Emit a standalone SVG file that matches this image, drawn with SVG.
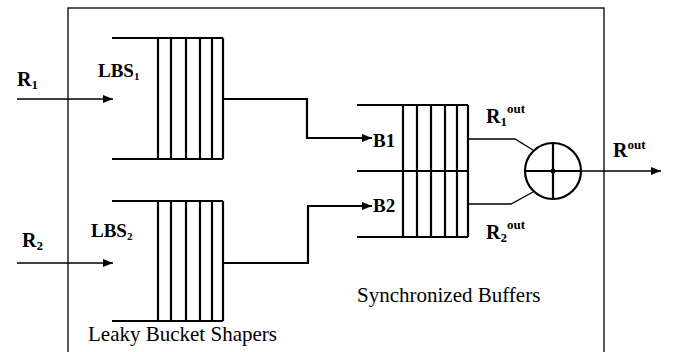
<svg xmlns="http://www.w3.org/2000/svg" width="682" height="352" viewBox="0 0 682 352">
<defs>
<marker id="ah" viewBox="0 0 10 8" refX="10" refY="4" markerWidth="10" markerHeight="8" markerUnits="userSpaceOnUse" orient="auto">
<path d="M0,0 L10,4 L0,8 Z" fill="#000"/>
</marker>
</defs>
<style>
.q{stroke:#000;stroke-width:2.2;fill:none}
.thin{stroke:#000;stroke-width:1.4;fill:none}
text{font-family:'Liberation Serif','Times New Roman','DejaVu Serif',serif;fill:#000}
.b{font-weight:bold}
.n{font-size:21px}
</style>
<rect id="frame" x="68" y="8" width="536" height="360" fill="none" stroke="#000" stroke-width="1.3"/>
<g id="lbs1">
<path class="q" d="M112,38 H223 M112,159 H223 M158,38 V159 M171,38 V159 M186,38 V159 M200,38 V159 M212,38 V159 M223,38 V159"/>
<text class="b" x="98" y="77" font-size="19">LBS<tspan font-size="11" dy="3">1</tspan></text>
</g>
<g id="lbs2">
<path class="q" d="M112,201 H223 M112,321 H223 M158,201 V321 M171,201 V321 M186,201 V321 M200,201 V321 M212,201 V321 M223,201 V321"/>
<text class="b" x="91" y="237" font-size="19">LBS<tspan font-size="11" dy="3">2</tspan></text>
</g>
<g id="sync">
<path class="q" d="M357,105 H468 M357,171 H468 M357,237 H468 M403,105 V237 M417,105 V237 M431,105 V237 M445,105 V237 M457,105 V237 M468,105 V237"/>
<text class="b" x="373" y="147" font-size="19">B1</text>
<text class="b" x="373" y="212" font-size="19">B2</text>
</g>
<g id="sum">
<circle cx="553" cy="171" r="28" fill="none" stroke="#000" stroke-width="2.2"/>
<path class="q" d="M525,171 H581 M553,143 V199"/>
<circle cx="553" cy="171" r="2.5" fill="#000"/>
</g>
<g id="labels">
<text class="b" x="17" y="86" font-size="20">R<tspan font-size="13" dy="3">1</tspan></text>
<text class="b" x="22" y="247" font-size="20">R<tspan font-size="13" dy="3">2</tspan></text>
<text class="b" x="486" y="123" font-size="20">R<tspan font-size="13" dy="3">1</tspan><tspan font-size="13" dy="-13">out</tspan></text>
<text class="b" x="486" y="239" font-size="20">R<tspan font-size="13" dy="3">2</tspan><tspan font-size="13" dy="-13">out</tspan></text>
<text class="b" x="613" y="157" font-size="20">R<tspan font-size="13" dy="-8">out</tspan></text>
<text class="n" x="88" y="341">Leaky Bucket Shapers</text>
<text class="n" x="357" y="302">Synchronized Buffers</text>
</g>
<g id="connectors">
<path class="thin" d="M17,99 H113" marker-end="url(#ah)"/>
<path class="thin" d="M17,263 H113" marker-end="url(#ah)"/>
<path class="q" d="M223,99 H307 V138 H372" marker-end="url(#ah)"/>
<path class="q" d="M223,263 H308 V206 H372" marker-end="url(#ah)"/>
<path class="thin" d="M468,139 H515 L533,150"/>
<path class="thin" d="M468,204 H511 L533,192"/>
<path class="thin" d="M581,171 H661" marker-end="url(#ah)"/>
</g>
</svg>
